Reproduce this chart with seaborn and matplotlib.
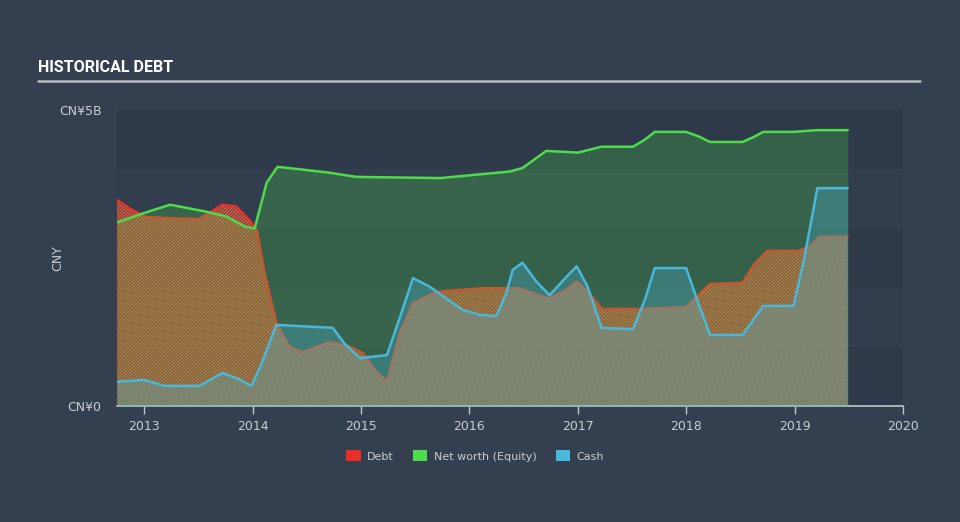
import numpy as np
import pandas as pd
import matplotlib
matplotlib.use("Agg")
import matplotlib.pyplot as plt
import seaborn as sns
from matplotlib.patches import Patch

# ---- data (values in CNY billions, dates as decimal years) ----
debt_t = [2012.75, 2012.87, 2013.02, 2013.28, 2013.51, 2013.60, 2013.72, 2013.85, 2013.97,
          2014.04, 2014.11, 2014.22, 2014.34, 2014.46, 2014.71, 2014.90, 2015.02, 2015.13,
          2015.24, 2015.36, 2015.48, 2015.70, 2016.12, 2016.46, 2016.60, 2016.74, 2016.88,
          2016.99, 2017.11, 2017.22, 2017.57, 2018.00, 2018.10, 2018.22, 2018.52, 2018.63,
          2018.75, 2019.04, 2019.14, 2019.23, 2019.49]
debt_v = [3.48, 3.33, 3.19, 3.17, 3.16, 3.26, 3.40, 3.37, 3.14,
          2.97, 2.25, 1.40, 1.00, 0.91, 1.08, 1.00, 0.89, 0.60,
          0.41, 1.23, 1.74, 1.93, 1.99, 1.99, 1.90, 1.81, 1.95,
          2.10, 1.90, 1.64, 1.64, 1.67, 1.85, 2.06, 2.08, 2.40,
          2.62, 2.62, 2.70, 2.86, 2.86]

equity_t = [2012.75, 2013.00, 2013.24, 2013.58, 2013.76, 2013.93, 2014.02, 2014.13, 2014.23,
            2014.43, 2014.71, 2014.96, 2015.73, 2016.37, 2016.49, 2016.71, 2017.00, 2017.22,
            2017.51, 2017.62, 2017.71, 2018.00, 2018.12, 2018.22, 2018.52, 2018.63, 2018.71,
            2018.99, 2019.21, 2019.49]
equity_v = [3.10, 3.26, 3.40, 3.28, 3.20, 3.03, 3.00, 3.77, 4.04,
            4.00, 3.94, 3.87, 3.85, 3.96, 4.02, 4.31, 4.28, 4.38,
            4.38, 4.50, 4.63, 4.63, 4.55, 4.46, 4.46, 4.55, 4.63,
            4.63, 4.66, 4.66]

cash_t = [2012.75, 2013.00, 2013.19, 2013.51, 2013.62, 2013.72, 2013.88, 2013.99, 2014.08,
          2014.22, 2014.43, 2014.74, 2014.85, 2014.99, 2015.24, 2015.36, 2015.48, 2015.63,
          2015.94, 2016.10, 2016.25, 2016.34, 2016.40, 2016.49, 2016.62, 2016.74, 2016.88,
          2016.99, 2017.09, 2017.22, 2017.51, 2017.62, 2017.71, 2018.00, 2018.10, 2018.22,
          2018.52, 2018.71, 2018.99, 2019.09, 2019.21, 2019.49]
cash_v = [0.41, 0.44, 0.34, 0.34, 0.45, 0.56, 0.45, 0.34, 0.70,
          1.37, 1.35, 1.32, 1.05, 0.81, 0.86, 1.50, 2.16, 2.02,
          1.62, 1.54, 1.52, 1.90, 2.30, 2.42, 2.10, 1.87, 2.15,
          2.36, 2.02, 1.32, 1.30, 1.80, 2.33, 2.33, 1.80, 1.20,
          1.20, 1.69, 1.69, 2.50, 3.68, 3.68]

year_ticks = [2013, 2014, 2015, 2016, 2017, 2018, 2019, 2020]
y_ticks = [0, 5]
y_tick_labels = ["CN¥0", "CN¥5B"]
series_names = ["Debt", "Net worth (Equity)", "Cash"]

# ---- style ----
BG = "#34404f"
BAND_DARK = "#2e3a4a"
BAND_LIGHT = "#323e4e"
TXT = "#c9cdd2"
RED = "#e8302a"
GREEN = "#4fdc4a"
BLUE = "#4ab8da"

sns.set_theme(style="dark")
plt.rcParams["font.family"] = ["DejaVu Sans"]
plt.rcParams["hatch.linewidth"] = 1.15

fig = plt.figure(figsize=(9.6, 5.22), dpi=100, facecolor=BG)
ax = fig.add_axes([117 / 960, 1 - 406 / 522, (903 - 117) / 960, (406 - 110) / 522])
ax.set_facecolor(BG)

# background bands
for i in range(5):
    ax.axhspan(i, i + 1, color=BAND_DARK if i % 2 == 0 else BAND_LIGHT, lw=0, zorder=0)

debt_df = pd.DataFrame({"t": debt_t, "v": debt_v})
eq_df = pd.DataFrame({"t": equity_t, "v": equity_v})
cash_df = pd.DataFrame({"t": cash_t, "v": cash_v})

# debt hatched area + line
ax.fill_between(debt_df.t, 0, debt_df.v, facecolor="none", edgecolor="#e4583c",
                hatch="//////////", lw=0, zorder=1)
sns.lineplot(data=debt_df, x="t", y="v", ax=ax, color=RED, lw=1.8, zorder=2)

# equity area
ax.fill_between(eq_df.t, 0, eq_df.v, color=GREEN, alpha=0.24, lw=0, zorder=3)
# cash area
ax.fill_between(cash_df.t, 0, cash_df.v, color=BLUE, alpha=0.3, lw=0, zorder=4)

sns.lineplot(data=eq_df, x="t", y="v", ax=ax, color=GREEN, lw=1.8, zorder=5)
sns.lineplot(data=cash_df, x="t", y="v", ax=ax, color=BLUE, lw=1.8, zorder=6)

ax.set_xlim(2012.75, 2020.0)
ax.set_ylim(0, 5)
ax.set_xticks(year_ticks)
ax.set_xticklabels([str(y) for y in year_ticks], color=TXT, fontsize=9)
ax.set_yticks(y_ticks)
ax.set_yticklabels(y_tick_labels, color=TXT, fontsize=9)
ax.tick_params(axis="x", length=6, width=1, color="#c0c6cc", pad=4, bottom=True)
ax.tick_params(axis="y", length=0, pad=11)
ax.set_xlabel("")
ax.set_ylabel("CNY", color=TXT, fontsize=9)
ax.yaxis.set_label_coords(-0.067, 0.5)
for s in ["top", "right", "left"]:
    ax.spines[s].set_visible(False)
ax.spines["bottom"].set_color("#c0c6cc")
ax.spines["bottom"].set_linewidth(1.2)
ax.grid(False)

# title and rule
fig.text(38 / 960, 1 - 68 / 522, "HISTORICAL DEBT", color="white", fontsize=11.5,
         fontweight="bold", family=["Roboto", "DejaVu Sans"],
         va="center", ha="left")
fig.add_artist(plt.Line2D([38 / 960, 920 / 960], [1 - 81 / 522, 1 - 81 / 522],
                          color="#b8bcc2", lw=1.8, transform=fig.transFigure))

handles = [Patch(facecolor=c, edgecolor="none") for c in [RED, GREEN, BLUE]]
leg = fig.legend(handles, series_names, loc="center", bbox_to_anchor=(0.495, 1 - 456 / 522),
                 ncol=3, frameon=False, fontsize=8, handlelength=1.3, handleheight=1.1,
                 columnspacing=1.7, handletextpad=0.6)
for t in leg.get_texts():
    t.set_color(TXT)

fig.savefig("out.png", dpi=100, facecolor=BG)
